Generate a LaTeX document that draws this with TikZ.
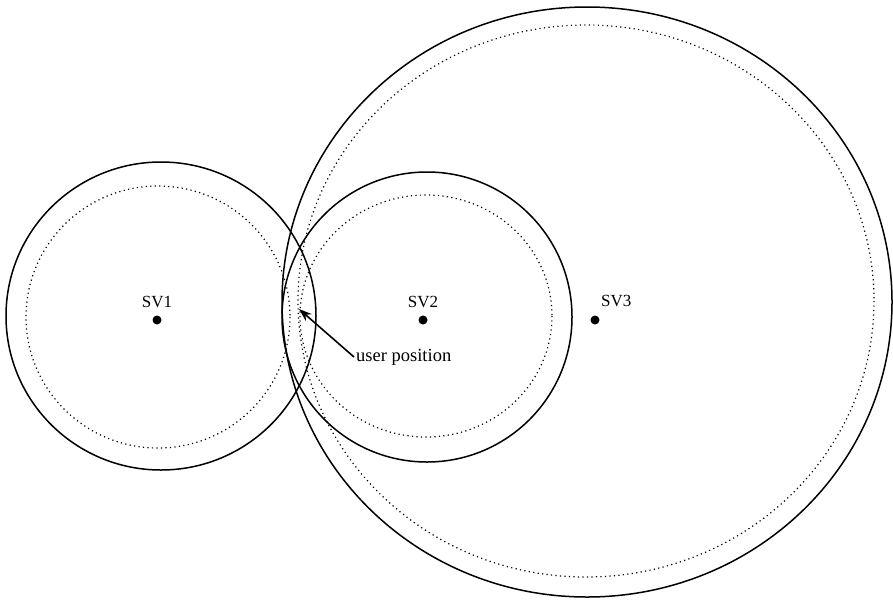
\documentclass[tikz,border=0pt]{standalone}
\usepackage{fontspec}
\setmainfont{Liberation Serif}
\usepackage{tikz}
\usetikzlibrary{arrows.meta}

\begin{document}
\begin{tikzpicture}[x=1pt,y=-1pt,
  measured/.style={line width=1.5pt},
  pseudo/.style={line width=1.2pt,dash pattern=on 1.2pt off 3.3pt},
  sat/.style={circle,fill,inner sep=0pt,minimum size=9pt},
  satlbl/.style={font=\fontsize{17}{20}\selectfont,inner sep=1pt,label distance=6pt}]
\useasboundingbox (0,0) rectangle (893,600);
% satellites
\node[sat,label={[satlbl]above:SV1}] (sv1) at (157,320) {};
\node[sat,label={[satlbl]above:SV2}] (sv2) at (423,320) {};
\node[sat,label={[satlbl,label distance=1pt,xshift=1pt,yshift=8pt]above right:SV3}] (sv3) at (595,320) {};
% measured ranges
\draw[measured] (161,316) ellipse [x radius=155, y radius=154];
\draw[measured] (427,317) ellipse [x radius=145, y radius=145];
\draw[measured] (587,302) ellipse [x radius=305, y radius=295];
% true ranges
\draw[pseudo] (158,317) ellipse [x radius=132, y radius=131];
\draw[pseudo] (426,316) ellipse [x radius=126, y radius=121];
\draw[pseudo] (586,301) ellipse [x radius=288, y radius=276];
% user position
\coordinate (user) at (299,309);
\node[font=\fontsize{18.5}{22}\selectfont,anchor=west,inner sep=2pt] (ulbl) at (354,357) {user position};
\draw[line width=1.6pt,-{Stealth[length=13pt,width=9pt]}] (ulbl.west) -- (user);
\end{tikzpicture}
\end{document}
